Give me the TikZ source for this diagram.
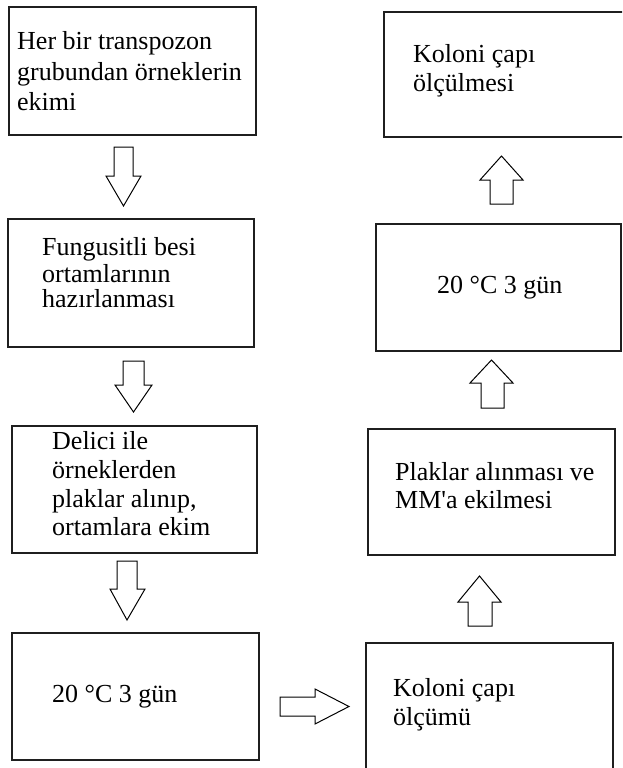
\documentclass[tikz,border=0pt]{standalone}
\usepackage{fontspec}
\setmainfont{Liberation Serif}
\newfontfamily\nolig{Liberation Serif}
\begin{document}
\begin{tikzpicture}[x=1pt,y=-1pt,
  box/.style={draw=black!88, line width=1.4pt, inner sep=0pt, outer sep=0pt, anchor=north west},
  txt/.style={anchor=base west, inner sep=0pt, font=\fontsize{26}{29}\selectfont},
  barrow/.style={draw=black, line width=1pt, fill=white, line join=miter}]
\useasboundingbox (0,0) rectangle (622,768);
\clip (0,0) rectangle (622,768);
% boxes (left column)
\node[box, minimum width=247pt, minimum height=128pt] (b1) at (9,7) {};
\node[box, minimum width=246pt, minimum height=128pt] (b2) at (8,219) {};
\node[box, minimum width=245pt, minimum height=127pt] (b3) at (12,426) {};
\node[box, minimum width=247pt, minimum height=127pt] (b4) at (12,633) {};
% boxes (right column)
\node[box, minimum width=247pt, minimum height=140pt] (b5) at (366,643) {};
\node[box, minimum width=247pt, minimum height=126pt] (b6) at (368,429) {};
\node[box, minimum width=245pt, minimum height=127pt] (b7) at (376,224) {};
\node[box, minimum width=250pt, minimum height=125pt] (b8) at (384,12) {};
% texts
\node[txt] (t1a) at (17,50) {Her bir transpozon};
\node[txt] (t1b) at (17,81) {grubundan örneklerin};
\node[txt] (t1c) at (17,110) {ekimi};
\node[txt] (t2a) at (42,255) {Fungusitli besi};
\node[txt] (t2b) at (42,282) {ortamlarının};
\node[txt] (t2c) at (42,307) {hazırlanması};
\node[txt] (t3a) at (52,449) {Delici ile};
\node[txt] (t3b) at (52,478) {örneklerden};
\node[txt] (t3c) at (52,507) {plaklar alınıp,};
\node[txt] (t3d) at (52,535) {ortamlara ekim};
\node[txt] (t4) at (52,702) {20 °C 3 gün};
\node[txt] (t5a) at (393,696) {Koloni çapı};
\node[txt] (t5b) at (393,725) {ölçümü};
\node[txt] (t6a) at (395,480) {Plaklar alınması ve};
\node[txt] (t6b) at (395,508) {MM{\nolig '}a ekilmesi};
\node[txt] (t7) at (437,293) {20 °C 3 gün};
\node[txt] (t8a) at (413,63) {Koloni çapı};
\node[txt] (t8b) at (413,92) {ölçülmesi};
% block arrows
\draw[barrow] (114,147) -- (133,147) -- (133,176) -- (141,176) -- (123.5,206) -- (106,176) -- (114,176) -- cycle;
\draw[barrow] (123,361) -- (144,361) -- (144,385) -- (152,385) -- (133.5,412) -- (115,385) -- (123,385) -- cycle;
\draw[barrow] (117,561) -- (137,561) -- (137,589) -- (145,589) -- (127,620) -- (110,589) -- (117,589) -- cycle;
\draw[barrow] (280,697) -- (315,697) -- (315,689) -- (349,706.5) -- (315,724) -- (315,716) -- (280,716) -- cycle;
\draw[barrow] (468,626) -- (492,626) -- (492,602) -- (501,602) -- (479.5,576) -- (458,602) -- (468,602) -- cycle;
\draw[barrow] (481,408) -- (504,408) -- (504,383) -- (513,383) -- (491.5,360) -- (470,383) -- (481,383) -- cycle;
\draw[barrow] (490,204) -- (513,204) -- (513,180) -- (523,180) -- (501.5,156) -- (480,180) -- (490,180) -- cycle;
\end{tikzpicture}
\end{document}
